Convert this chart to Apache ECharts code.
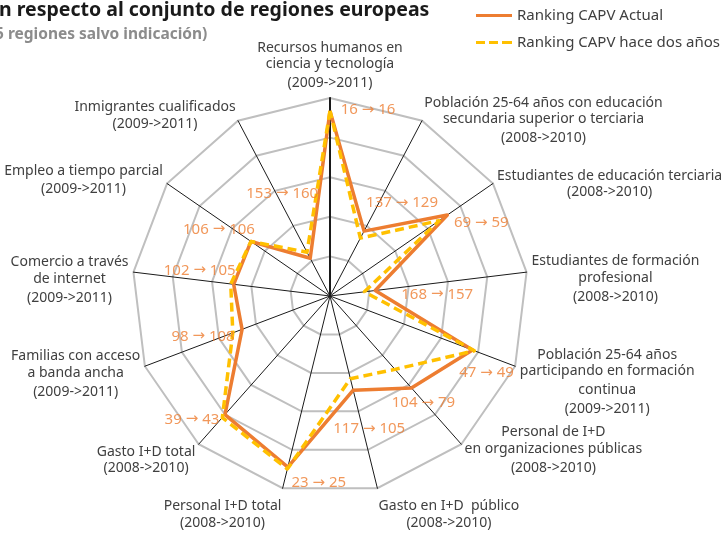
<!DOCTYPE html>
<html>
<head>
<meta charset="utf-8">
<script src="https://cdn.jsdelivr.net/npm/echarts@6/dist/echarts.min.js"></script>
<style>
  html, body { margin: 0; padding: 0; background: #fff; }
  #chart { width: 726px; height: 534px; }
</style>
</head>
<body>
<div id="chart"></div>
<script>
// indicadores en el orden del gráfico (sentido horario desde arriba)
const indicadores = [
  'Recursos humanos en\nciencia y tecnología\n(2009->2011)',
  'Población 25-64 años con educación\nsecundaria superior o terciaria\n(2008->2010)',
  'Estudiantes de educación terciaria\n(2008->2010)',
  'Estudiantes de formación\nprofesional\n(2008->2010)',
  'Población 25-64 años\nparticipando en formación\ncontinua\n(2009->2011)',
  'Personal de I+D\nen organizaciones públicas\n(2008->2010)',
  'Gasto en I+D  público\n(2008->2010)',
  'Personal I+D total\n(2008->2010)',
  'Gasto I+D total\n(2008->2010)',
  'Familias con acceso\na banda ancha\n(2009->2011)',
  'Comercio a través\nde internet\n(2009->2011)',
  'Empleo a tiempo parcial\n(2009->2011)',
  'Inmigrantes cualificados\n(2009->2011)'
]
const rankingAnterior = [16, 137, 69, 168, 47, 104, 117, 23, 39, 98, 102, 106, 153]
const rankingActual = [16, 129, 59, 157, 49, 79, 105, 25, 43, 108, 105, 106, 160]

// desplazamiento de cada etiqueta respecto al vértice naranja
const offsetsEtiqueta = [
  [38, -1], [38, -28], [34, 8], [62, 4], [14, 23], [12, 15], [16, 39],
  [31, 16], [-33, 5], [-39, 7], [-34, -14], [-32, -12], [-28, -65]
]
// bajada vertical de cada nombre de eje (px)
const bajadaNombre = [0, 3, 2, 6, 13, 1, 20, 20, 11, 5, 7, -1, -2]

const BASE = 203   // el ranking 1 queda casi en el borde exterior
const MAXIMO = 200
const naranja = '#ED7D31'
const amarillo = '#FFC000'
const gris = '#404040'
const fuente = 'Noto Sans'

const n = indicadores.length
// echarts dibuja el radar en sentido antihorario: invertimos el orden
const orden = [0]
for (let i = n - 1; i > 0; i--) orden.push(i)
const aRadar = (arr) => orden.map(i => BASE - arr[i])

const richNombres = { c: { align: 'center', color: gris, fontFamily: fuente, fontSize: 14, lineHeight: 19 } }
bajadaNombre.forEach((d, i) => {
  const alto = Math.max(19 + 2 * d, 1)
  richNombres['p' + i] = {
    align: 'center', color: gris, fontFamily: fuente, fontSize: 14,
    lineHeight: alto, verticalAlign: d >= 0 ? 'bottom' : 'middle'
  }
})

const chart = echarts.init(document.getElementById('chart'))

const option = {
  animation: false,
  title: [
    {
      text: 'n respecto al conjunto de regiones europeas',
      left: -1, top: 0, padding: 0,
      textStyle: { fontFamily: fuente, fontSize: 19.5, fontWeight: 'bold', color: '#1a1a1a' }
    },
    {
      text: '5 regiones salvo indicación)',
      left: -5, top: 27, padding: 0,
      textStyle: { fontFamily: fuente, fontSize: 15.5, fontWeight: 'bold', color: '#8c8c8c' }
    }
  ],
  legend: {
    orient: 'vertical',
    left: 476, top: 8, padding: 0,
    itemWidth: 36, itemHeight: 3, itemGap: 12,
    textStyle: { fontFamily: fuente, fontSize: 15, color: gris },
    data: [
      { name: 'Ranking CAPV Actual', icon: 'path://M0,0h36v3h-36z' },
      { name: 'Ranking CAPV hace dos años', icon: 'path://M0,0h9v3h-9zM13,0h9v3h-9zM26,0h10v3h-10z' }
    ]
  },
  radar: {
    center: [330, 296],
    radius: 198,
    startAngle: 90,
    splitNumber: 5,
    shape: 'polygon',
    nameGap: 5,
    indicator: orden.map(i => ({ name: indicadores[i], min: 0, max: MAXIMO })),
    axisName: {
      color: gris,
      fontFamily: fuente,
      fontSize: 14,
      formatter: (name) => {
        const idx = indicadores.indexOf(name)
        return name.split('\n').map((l, k) => '{' + (k === 0 ? 'p' + idx : 'c') + '|' + l + '}').join('\n')
      },
      rich: richNombres
    },
    axisLine: { lineStyle: { color: '#1a1a1a', width: 1 } },
    splitLine: { lineStyle: { color: '#bfbfbf', width: 2 } },
    splitArea: { show: false }
  },
  polar: { center: [330, 296], radius: 198 },
  angleAxis: { type: 'value', min: 0, max: n, startAngle: 90, clockwise: true, show: false },
  radiusAxis: {
    type: 'value', min: 0, max: MAXIMO,
    axisLine: { show: true, lineStyle: { color: '#1a1a1a', width: 2 } },
    axisTick: { show: false }, axisLabel: { show: false }, splitLine: { show: false }
  },
  series: [
    {
      type: 'radar',
      symbol: 'none',
      data: [
        {
          name: 'Ranking CAPV Actual',
          value: aRadar(rankingActual),
          itemStyle: { color: naranja },
          lineStyle: { color: naranja, width: 3.5 }
        },
        {
          name: 'Ranking CAPV hace dos años',
          value: aRadar(rankingAnterior),
          itemStyle: { color: amarillo },
          lineStyle: { color: amarillo, width: 3.5, type: [9, 5] }
        }
      ]
    },
    {
      type: 'scatter',
      coordinateSystem: 'polar',
      symbolSize: 0.1,
      itemStyle: { color: 'rgba(0,0,0,0)' },
      silent: true,
      data: rankingActual.map((r, i) => ({
        value: [BASE - r, i],
        label: { offset: offsetsEtiqueta[i] }
      })),
      label: {
        show: true,
        position: 'inside',
        color: naranja,
        fontFamily: fuente,
        fontSize: 15,
        formatter: (p) => '{n|' + rankingAnterior[p.dataIndex] + '} {a|\u2192} {n|' + rankingActual[p.dataIndex] + '}',
        rich: {
          n: { color: naranja, fontFamily: fuente, fontSize: 15 },
          a: { color: naranja, fontFamily: 'DejaVu Sans', fontSize: 15 }
        }
      }
    }
  ]
}

chart.setOption(option)
</script>
</body>
</html>
